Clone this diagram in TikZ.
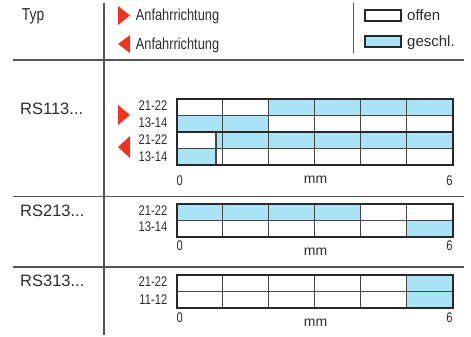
\documentclass[tikz,border=0pt]{standalone}
\usepackage{fontspec}
\setmainfont{Liberation Sans}
\newfontfamily\condfont[FakeStretch=0.8]{Liberation Sans}
\usepackage{tikz}
\definecolor{blau}{RGB}{168,228,246}
\definecolor{pfeil}{RGB}{238,52,30}
\definecolor{schrift}{RGB}{45,45,45}
\definecolor{strich}{RGB}{85,85,85}
\definecolor{gitter}{RGB}{70,70,70}
\definecolor{rahmen}{RGB}{40,40,40}

\begin{document}
\begin{tikzpicture}[x=1pt, y=-1pt,
    txt/.style={inner sep=0pt, text=schrift},
    kopf/.style={txt, anchor=base west, font=\condfont\fontsize{16}{18}\selectfont},
    legende/.style={txt, anchor=base west, font=\fontsize{15}{17}\selectfont},
    typ/.style={txt, anchor=base west, font=\fontsize{16.5}{18}\selectfont},
    kontakt/.style={txt, anchor=base east, font=\condfont\fontsize{14}{16}\selectfont},
    ziffer/.style={txt, font=\condfont\fontsize{14}{16}\selectfont},
    einheit/.style={txt, anchor=base, font=\fontsize{14}{16}\selectfont},
    linie/.style={strich, line width=1.3pt},
    feld/.style={gitter, line width=1.2pt},
    kasten/.style={rahmen, line width=2pt}]
    \useasboundingbox (0,0) rectangle (471,337);
                % Kopfzeile
                \draw[linie] (104,3) -- (104,335);
                \draw[linie] (12.5,60) -- (463.5,60);
                \draw[linie] (12.5,196.5) -- (463.5,196.5);
                \draw[linie] (12.5,267) -- (463.5,267);
                \draw[linie] (353.5,3) -- (353.5,53);
                \node[kopf, font=\condfont\fontsize{17.3}{19}\selectfont] (typ) at (21.7,20.7) {Typ};
                \fill[pfeil] (118,6) -- (118,25) -- (130,15.5) -- cycle;
                \fill[pfeil] (130,35) -- (130,53) -- (118,44) -- cycle;
                \node[kopf] (rechts) at (135.7,20.3) {Anfahrrichtung};
                \node[kopf] (links) at (135.7,49.3) {Anfahrrichtung};
                \draw[kasten, line width=1.3pt, fill=white] (365,10) rectangle (401,21);
                \draw[kasten, line width=1.3pt, fill=blau] (365,36) rectangle (401,47);
                \node[legende] (offen) at (407,21) {offen};
                \node[legende] (geschl) at (407,46.5) {geschl.};
                % RS113
                \node[typ] (rs1) at (20,114.5) {RS113...};
                \fill[pfeil] (118,105) -- (118,125) -- (130,115) -- cycle;
                \fill[pfeil] (130,136) -- (130,158) -- (118,147) -- cycle;
                \fill[blau] (268.5,98.5) rectangle (452.5,115.2);
                \fill[blau] (176.5,115.2) rectangle (268.5,131.9);
                \fill[blau] (216,131.9) rectangle (452.5,148.6);
                \fill[blau] (176.5,148.6) rectangle (216,165.3);
                \foreach \x in {222.5,268.5,314.5,360.5,406.5}
                    \draw[feld] (\x,98.5) -- (\x,165.3);
                \foreach \y in {115.2,148.6}
                    \draw[feld] (176.5,\y) -- (452.5,\y);
                \draw[feld] (216,131.9) -- (216,165.3);
                \draw[kasten] (176.5,131.9) -- (452.5,131.9);
                \draw[kasten] (176.5,98.5) rectangle (452.5,165.3);
                \node[kontakt] (a1) at (167.5,110.5) {21-22};
                \node[kontakt] (a2) at (167.5,127) {13-14};
                \node[kontakt] (a3) at (167.5,144) {21-22};
                \node[kontakt] (a4) at (167.5,161) {13-14};
                \node[ziffer, anchor=base west] (a0) at (176.5,185) {0};
                \node[einheit] (amm) at (315.5,183.5) {mm};
                \node[ziffer, anchor=base east] (a6) at (452.7,185) {6};
                % RS213
                \node[typ] (rs2) at (20,216.3) {RS213...};
                \fill[blau] (176.5,204) rectangle (360.5,220.4);
                \fill[blau] (406.5,220.4) rectangle (452.5,236.8);
                \foreach \x in {222.5,268.5,314.5,360.5,406.5}
                    \draw[feld] (\x,204) -- (\x,236.8);
                \draw[feld] (176.5,220.4) -- (452.5,220.4);
                \draw[kasten] (176.5,204) rectangle (452.5,236.8);
                \node[kontakt] (b1) at (167.5,215.5) {21-22};
                \node[kontakt] (b2) at (167.5,231.7) {13-14};
                \node[ziffer, anchor=base west] (b0) at (176.5,250.5) {0};
                \node[einheit] (bmm) at (315.5,255) {mm};
                \node[ziffer, anchor=base east] (b6) at (452.7,250.5) {6};
                % RS313
                \node[typ] (rs3) at (20,286) {RS313...};
                \fill[blau] (406.5,275) rectangle (452.5,307.5);
                \foreach \x in {222.5,268.5,314.5,360.5,406.5}
                    \draw[feld] (\x,275) -- (\x,307.5);
                \draw[feld] (176.5,291.2) -- (452.5,291.2);
                \draw[kasten] (176.5,275) rectangle (452.5,307.5);
                \node[kontakt] (c1) at (167.5,286.7) {21-22};
                \node[kontakt] (c2) at (167.5,304) {11-12};
                \node[ziffer, anchor=base west] (c0) at (176.5,322) {0};
                \node[einheit] (cmm) at (315.5,326) {mm};
                \node[ziffer, anchor=base east] (c6) at (452.7,322) {6};
            \end{tikzpicture}
\end{document}
